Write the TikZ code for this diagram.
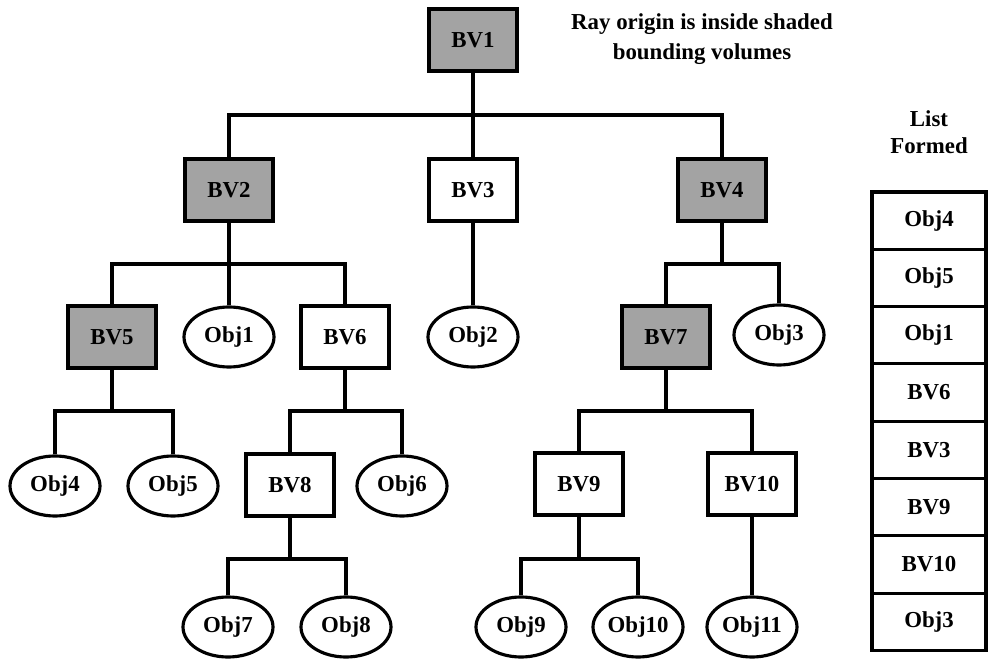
\documentclass[tikz,border=0pt]{standalone}
\usepackage{fontspec}
\setmainfont{Liberation Serif}
\usepackage{tikz}
\usetikzlibrary{
  positioning,
  shapes.geometric
}

\begin{document}
\begin{tikzpicture}[
    font=\fontsize{13}{17}\selectfont\bfseries,
    % Tree node styles
    bv/.style={
        rectangle, draw=black, line width=1.8pt,
        fill=white, minimum width=1.76cm, minimum height=1.24cm, inner sep=0pt
    },
    hit/.style={bv, fill=black!36},
    obj/.style={
        ellipse, draw=black, line width=1.8pt,
        fill=white, minimum width=1.8cm, minimum height=1.2cm, inner sep=0pt
    },
    % List cell style
    cell/.style={
        rectangle, draw=black, line width=1.8pt,
        minimum width=2.28cm, minimum height=1.146cm, inner sep=0pt
    },
    % Connector style
    link/.style={line width=1.8pt, draw=black}
]
\useasboundingbox (0, 0) rectangle (19.76, 13.18);

% ==========================================
% TREE NODES
% ==========================================

% --- Root (Level 0) ---
\node[hit] (bv1) at (9.46, 12.38) {BV1};
\node[align=center] (note) at (14.04, 12.40) {Ray origin is inside shaded\\bounding volumes};

% --- Level 1 ---
\node[hit] (bv2) at (4.58, 9.38) {BV2};
\node[bv] (bv3) at (9.46, 9.38) {BV3};
\node[hit] (bv4) at (14.44, 9.38) {BV4};

% --- Level 2 ---
\node[hit] (bv5) at (2.24, 6.44) {BV5};
\node[obj] (obj1) at (4.58, 6.44) {Obj1};
\node[bv] (bv6) at (6.90, 6.44) {BV6};
\node[obj] (obj2) at (9.46, 6.44) {Obj2};
\node[hit] (bv7) at (13.32, 6.44) {BV7};
\node[obj] (obj3) at (15.58, 6.48) {Obj3};

% --- Level 3 ---
\node[obj] (obj4) at (1.10, 3.46) {Obj4};
\node[obj] (obj5) at (3.46, 3.46) {Obj5};
\node[bv] (bv8) at (5.80, 3.48) {BV8};
\node[obj] (obj6) at (8.04, 3.46) {Obj6};
\node[bv] (bv9) at (11.58, 3.50) {BV9};
\node[bv] (bv10) at (15.04, 3.50) {BV10};

% --- Level 4 ---
\node[obj] (obj7) at (4.56, 0.64) {Obj7};
\node[obj] (obj8) at (6.92, 0.64) {Obj8};
\node[obj] (obj9) at (10.42, 0.64) {Obj9};
\node[obj] (obj10) at (12.76, 0.64) {Obj10};
\node[obj] (obj11) at (15.04, 0.64) {Obj11};

% ==========================================
% LIST FORMED
% ==========================================
\node[align=center, font=\fontsize{13}{15.5}\selectfont\bfseries] (listhead) at (18.58, 10.54) {List\\Formed};
\node[cell] (l1) at (18.58, 8.767) {Obj4};
\node[cell] (l2) at (18.58, 7.621) {Obj5};
\node[cell] (l3) at (18.58, 6.475) {Obj1};
\node[cell] (l4) at (18.58, 5.329) {BV6};
\node[cell] (l5) at (18.58, 4.183) {BV3};
\node[cell] (l6) at (18.58, 3.037) {BV9};
\node[cell] (l7) at (18.58, 1.891) {BV10};
\node[cell] (l8) at (18.58, 0.745) {Obj3};

% ==========================================
% BRANCHES
% ==========================================

% Bus junctions
\coordinate (j1) at (9.46, 10.88);
\coordinate (j2) at (4.58, 7.90);
\coordinate (j4) at (14.44, 7.90);
\coordinate (j5) at (2.24, 4.96);
\coordinate (j6) at (6.90, 4.96);
\coordinate (j7) at (13.32, 4.96);
\coordinate (j8) at (5.80, 2.00);
\coordinate (j9) at (11.58, 2.00);

% 1. Root to level 1
\draw[link] (bv1.south) -- (bv3.north);
\draw[link] (bv2.north) |- (j1) -| (bv4.north);

% 2. Level 1 to level 2
\draw[link] (bv2.south) -- (obj1.north);
\draw[link] (bv5.north) |- (j2) -| (bv6.north);
\draw[link] (bv3.south) -- (obj2.north);
\draw[link] (bv4.south) -- (j4);
\draw[link] (bv7.north) |- (j4) -| (obj3.north);

% 3. Level 2 to level 3
\draw[link] (bv5.south) -- (j5);
\draw[link] (obj4.north) |- (j5) -| (obj5.north);
\draw[link] (bv6.south) -- (j6);
\draw[link] (bv8.north) |- (j6) -| (obj6.north);
\draw[link] (bv7.south) -- (j7);
\draw[link] (bv9.north) |- (j7) -| (bv10.north);

% 4. Level 3 to level 4
\draw[link] (bv8.south) -- (j8);
\draw[link] (obj7.north) |- (j8) -| (obj8.north);
\draw[link] (bv9.south) -- (j9);
\draw[link] (obj9.north) |- (j9) -| (obj10.north);
\draw[link] (bv10.south) -- (obj11.north);

\end{tikzpicture}
\end{document}
